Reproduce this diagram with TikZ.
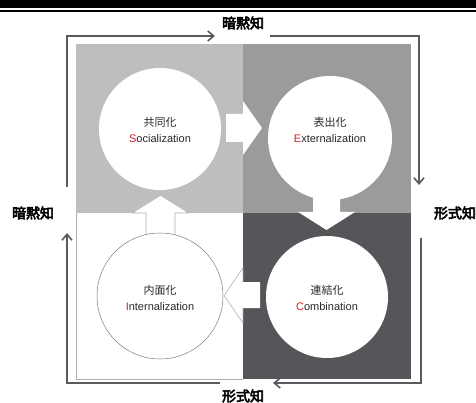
\documentclass[tikz,border=0pt]{standalone}
\usepackage{fontspec}
\setmainfont{Liberation Sans}
\newfontfamily\cjk{Noto Sans CJK JP}
\newfontfamily\cjkb{Noto Sans CJK JP}[FakeBold=4]
\usetikzlibrary{arrows.meta}
\definecolor{qTL}{RGB}{189,190,189}
\definecolor{qTR}{RGB}{155,155,156}
\definecolor{qBR}{RGB}{84,86,90}
\definecolor{qLine}{RGB}{176,176,176}
\definecolor{frameC}{RGB}{90,91,94}
\definecolor{txt}{RGB}{40,40,40}
\definecolor{redL}{RGB}{214,30,36}
\tikzset{
  frameline/.style={draw=frameC, line width=1.8pt, -{Straight Barb[length=6pt,width=10pt,line width=1.6pt]}},
  quadlabel/.style={font=\cjkb\fontsize{14}{14}\selectfont, text=black, inner sep=0pt},
  bubble/.style={circle, fill=white, inner sep=0pt},
  bubbletext/.style={align=center, text=txt, inner sep=0pt, font=\fontsize{11}{16}\selectfont},
  blockarrow/.style={fill=white, draw=none},
}
\newcommand{\jp}[1]{{\cjk #1}}
\newcommand{\rl}[1]{\textcolor{redL}{#1}}
\begin{document}
\begin{tikzpicture}[x=1pt,y=-1pt]
\useasboundingbox (0,0) rectangle (476,403);
\fill[white] (0,0) rectangle (476,403);
% top bars
\fill[black] (0,0) rectangle (476,8);
\fill[black] (0,10) rectangle (476,12);
% quadrants
\fill[qTL] (76,44) rectangle (243,213);
\fill[qTR] (243,44) rectangle (411,213);
\fill[qBR] (243,213) rectangle (411,379);
\fill[white] (76,213) rectangle (243,379);
\draw[qLine, line width=0.6pt] (76,213) -- (76,379) -- (243,379);
% block arrows
\path[blockarrow] (226,114) -- (243,114) -- (243,101) -- (262,128) -- (243,155) -- (243,142) -- (226,142) -- cycle;
\path[blockarrow] (313,195) -- (313,212) -- (298,212) -- (326.5,230) -- (355,212) -- (340,212) -- (340,195) -- cycle;
\path[blockarrow] (260,282) -- (243,282) -- (243,268) -- (224,295.5) -- (243,323) -- (243,308) -- (260,308) -- cycle;
\path[blockarrow] (146,232) -- (146,213) -- (133,213) -- (160.5,196) -- (188,213) -- (175,213) -- (175,232) -- cycle;
\begin{scope}
\clip (76,213) rectangle (243,379);
\draw[qLine, line width=0.6pt] (260,282) -- (243,282) -- (243,268) -- (224,295.5) -- (243,323) -- (243,308) -- (260,308);
\draw[qLine, line width=0.6pt] (146,240) -- (146,213) -- (133,213) -- (160.5,196) -- (188,213) -- (175,213) -- (175,240);
\end{scope}
% circles
\node[bubble, minimum size=122pt] (soc) at (160,129) {};
\node[bubble, minimum size=124pt] (ext) at (330,138) {};
\node[bubble, minimum size=126pt, draw=frameC!80, line width=0.5pt] (int) at (160,296) {};
\node[bubble, minimum size=122pt] (com) at (327,297) {};
\node[bubbletext] (socT) at (160,130) {\jp{共同化}\\\rl{S}ocialization};
\node[bubbletext] (extT) at (330,130) {\jp{表出化}\\\rl{E}xternalization};
\node[bubbletext] (intT) at (160,298) {\jp{内面化}\\\rl{I}nternalization};
\node[bubbletext] (comT) at (327,298) {\jp{連結化}\\\rl{C}ombination};
% labels
\node[quadlabel] (top) at (243,23) {暗黙知};
\node[quadlabel] (left) at (33,213) {暗黙知};
\node[quadlabel] (right) at (455,213) {形式知};
\node[quadlabel] (bottom) at (243,396) {形式知};
% frame
\coordinate (a0) at (67,187);
\coordinate (a1) at (67,36);
\coordinate (a2) at (215,36);
\coordinate (b0) at (270,36);
\coordinate (b1) at (419,36);
\coordinate (b2) at (419,185);
\coordinate (c0) at (421,238);
\coordinate (c1) at (421,383);
\coordinate (c2) at (273,383);
\coordinate (d0) at (220,383);
\coordinate (d1) at (67,383);
\coordinate (d2) at (67,233);
\draw[frameline] (a0) -- (a1) -- (a2);
\draw[frameline] (b0) -- (b1) -- (b2);
\draw[frameline] (c0) -- (c1) -- (c2);
\draw[frameline] (d0) -- (d1) -- (d2);
\end{tikzpicture}
\end{document}
